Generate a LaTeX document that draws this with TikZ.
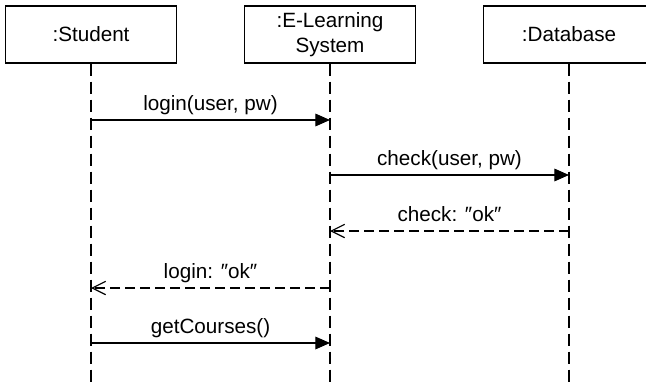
\documentclass[tikz,border=0pt]{standalone}
\usepackage{fontspec}
\setmainfont{Liberation Sans}
\usetikzlibrary{arrows.meta}

\begin{document}
\begin{tikzpicture}[x=0.75pt,y=-0.75pt,
  font=\fontsize{15.5}{18.8}\selectfont,
  object/.style={draw,line width=1pt,minimum width=128.25pt,minimum height=42.75pt,
    align=center,inner sep=0pt},
  lifeline/.style={line width=0.9pt,dash pattern=on 9pt off 4.5pt},
  call/.style={line width=0.9pt,-{Triangle[length=11pt,width=9.5pt]}},
  reply/.style={line width=0.9pt,dash pattern=on 7.5pt off 3.75pt,
    -{Straight Barb[length=10pt,width=10pt]}},
  msg/.style={midway,above,text height=11pt,text depth=3pt}]

  \useasboundingbox (0,0) rectangle (646,383);
  \clip (0,0) rectangle (646,383);

  % objects
  \node[object] (student) at (91,34.5) {:Student};
  \node[object] (elearning) at (330,34.5) {:E-Learning\\System};
  \node[object] (database) at (569,34.5) {:Database};

  % lifelines
  \coordinate (student-end) at (91,383);
  \coordinate (elearning-end) at (330,383);
  \coordinate (database-end) at (569,383);
  \draw[lifeline] (student.south) -- (student-end);
  \draw[lifeline] (elearning.south) -- (elearning-end);
  \draw[lifeline] (database.south) -- (database-end);

  % --- messages ---
  \draw[call] (student |- 0,120) -- (elearning |- 0,120)
    node[msg] {login(user, pw)};
  \draw[call] (elearning |- 0,175) -- (database |- 0,175)
    node[msg] {check(user, pw)};
  \draw[reply] (database |- 0,231) -- (elearning |- 0,231)
    node[msg] {check: ″ok″};
  \draw[reply] (elearning |- 0,288) -- (student |- 0,288)
    node[msg] {login: ″ok″};
  \draw[call] (student |- 0,343) -- (elearning |- 0,343)
    node[msg] {getCourses()};
\end{tikzpicture}
\end{document}
